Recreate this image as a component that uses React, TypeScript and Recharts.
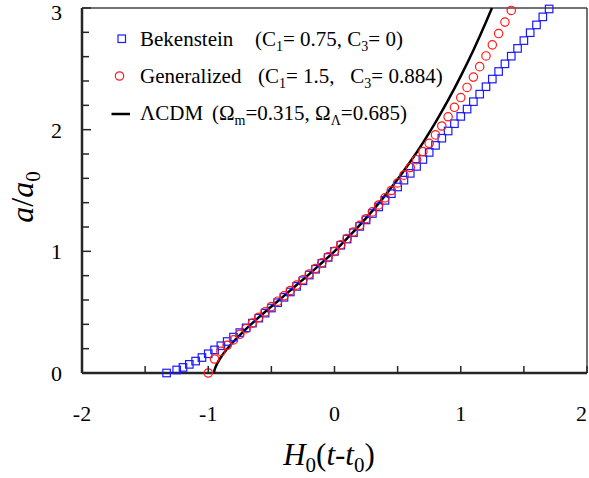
import React from "react";
import {
  ScatterChart,
  Scatter,
  XAxis,
  YAxis,
  ReferenceLine,
  Legend,
  Label,
} from "recharts";

// H0(t - t0) values and a/a0 for each model
const bekensteinT = [
  -1.33, -1.25, -1.2, -1.15, -1.1, -1.05, -1.0, -0.95, -0.9, -0.85, -0.8, -0.75,
  -0.7, -0.65, -0.6, -0.55, -0.5, -0.45, -0.4, -0.35, -0.3, -0.25, -0.2, -0.15,
  -0.1, -0.05, 0, 0.05, 0.1, 0.15, 0.2, 0.25, 0.3, 0.35, 0.4, 0.45, 0.5, 0.55,
  0.6, 0.65, 0.7, 0.75, 0.8, 0.85, 0.9, 0.95, 1.0, 1.05, 1.1, 1.15, 1.2, 1.25,
  1.3, 1.35, 1.4, 1.45, 1.5, 1.55, 1.6, 1.65, 1.7,
];
const bekensteinA = [
  0.0, 0.025, 0.046, 0.071, 0.098, 0.127, 0.158, 0.19, 0.224, 0.259, 0.295,
  0.332, 0.371, 0.41, 0.451, 0.492, 0.534, 0.578, 0.622, 0.666, 0.712, 0.758,
  0.805, 0.853, 0.901, 0.95, 1.0, 1.05, 1.101, 1.153, 1.205, 1.258, 1.311,
  1.365, 1.419, 1.474, 1.529, 1.585, 1.641, 1.698, 1.755, 1.813, 1.871, 1.93,
  1.989, 2.049, 2.109, 2.169, 2.23, 2.292, 2.353, 2.416, 2.478, 2.541, 2.604,
  2.668, 2.732, 2.797, 2.861, 2.927, 2.992,
];

const generalizedT = [
  -1.0, -0.95, -0.9, -0.85, -0.8, -0.75, -0.7, -0.65, -0.6, -0.55, -0.5, -0.45,
  -0.4, -0.35, -0.3, -0.25, -0.2, -0.15, -0.1, -0.05, 0, 0.05, 0.1, 0.15, 0.2,
  0.25, 0.3, 0.35, 0.4, 0.45, 0.5, 0.55, 0.6, 0.65, 0.7, 0.75, 0.8, 0.85, 0.9,
  0.95, 1.0, 1.05, 1.1, 1.15, 1.2, 1.25, 1.3, 1.35, 1.4,
];
const generalizedA = [
  0.0, 0.115, 0.178, 0.228, 0.272, 0.318, 0.364, 0.411, 0.457, 0.502, 0.546,
  0.59, 0.634, 0.678, 0.723, 0.767, 0.813, 0.859, 0.906, 0.955, 1.0, 1.054,
  1.106, 1.159, 1.213, 1.268, 1.324, 1.381, 1.44, 1.5, 1.562, 1.626, 1.689,
  1.753, 1.82, 1.888, 1.957, 2.03, 2.106, 2.184, 2.264, 2.347, 2.432, 2.518,
  2.606, 2.697, 2.79, 2.884, 2.98,
];

const lcdmT = [
  -0.955, -0.95, -0.94, -0.93, -0.91, -0.9, -0.85, -0.8, -0.75, -0.7, -0.6,
  -0.5, -0.4, -0.3, -0.2, -0.1, 0, 0.1, 0.2, 0.3, 0.4, 0.5, 0.6, 0.7, 0.8, 0.9,
  1.0, 1.1, 1.2, 1.247,
];
const lcdmA = [
  0, 0.026, 0.054, 0.076, 0.113, 0.129, 0.199, 0.258, 0.312, 0.363, 0.457,
  0.546, 0.634, 0.723, 0.813, 0.906, 1.0, 1.107, 1.216, 1.333, 1.458, 1.592,
  1.736, 1.892, 2.06, 2.242, 2.44, 2.653, 2.885, 3.0,
];

const xTicks = [-2, -1.5, -1, -0.5, 0, 0.5, 1, 1.5, 2];
const yTicks = [
  0, 0.2, 0.4, 0.6, 0.8, 1, 1.2, 1.4, 1.6, 1.8, 2, 2.2, 2.4, 2.6, 2.8, 3,
];

const zip = (ts: number[], as: number[]) =>
  ts.map((t, i) => ({ t, a: as[i] }));

const bekenstein = zip(bekensteinT, bekensteinA);
const generalized = zip(generalizedT, generalizedA);
const lcdm = zip(lcdmT, lcdmA);

const FONT = '"Liberation Serif", "Times New Roman", serif';
const AXIS = "#262626";
const BLUE = "#1a1aff";
const RED = "#ff1a1a";

const isMajor = (v: number) => Math.abs(v - Math.round(v)) < 1e-6;

function XTick({ x, y, payload }: any) {
  const v = payload.value;
  // last label sits at the page edge, keep it inside
  const last = v === 2;
  return (
    <g>
      <line x1={x} x2={x} y1={y} y2={y - 7} stroke={AXIS} strokeWidth={1.5} />
      {isMajor(v) && (
        <text
          x={last ? x : x}
          y={y + 48}
          textAnchor={last ? "end" : "middle"}
          fontFamily={FONT}
          fontSize={22}
          fill="#000"
        >
          {String(v)}
        </text>
      )}
    </g>
  );
}

function YTick({ x, y, payload }: any) {
  const v = payload.value;
  const major = isMajor(v);
  const top = v === 3;
  return (
    <g>
      <line x1={x} x2={x + (major ? 9 : 7)} y1={y} y2={y} stroke={AXIS} strokeWidth={1.5} />
      {major && (
        <text x={x - 20} y={y + (top ? 12 : 8)} textAnchor="end" fontFamily={FONT} fontSize={22} fill="#000">
          {String(Math.round(v))}
        </text>
      )}
    </g>
  );
}

function XTitle() {
  return (
    <text x={329} y={465} textAnchor="middle" fontFamily={FONT} fontSize={31} fill="#000">
      <tspan fontStyle="italic">H</tspan>
      <tspan fontSize={21} dy={7}>0</tspan>
      <tspan dy={-7}>(</tspan>
      <tspan fontStyle="italic">t</tspan>
      <tspan>-</tspan>
      <tspan fontStyle="italic">t</tspan>
      <tspan fontSize={21} dy={7}>0</tspan>
      <tspan dy={-7}>)</tspan>
    </text>
  );
}

function YTitle() {
  return (
    <text
      transform="translate(33,197) rotate(-90)"
      textAnchor="middle"
      fontFamily={FONT}
      fontSize={32}
      fill="#000"
    >
      <tspan fontStyle="italic">a</tspan>
      <tspan>/</tspan>
      <tspan fontStyle="italic">a</tspan>
      <tspan fontSize={21} dy={7}>0</tspan>
    </text>
  );
}

function LegendBox() {
  const txt = { fontFamily: FONT, fontSize: 21, fill: "#000", xmlSpace: "preserve" } as any;
  return (
    <svg width={589} height={130} style={{ display: "block" }}>
      <rect x={118} y={35} width={7.5} height={7.5} fill="none" stroke={BLUE} strokeWidth={1.2} />
      <text x={140} y={45.5} {...txt}>Bekenstein</text>
      <text x={255} y={45.5} {...txt}>
        (C<tspan fontSize={14} dy={5}>1</tspan>
        <tspan dy={-5}>= 0.75, C</tspan>
        <tspan fontSize={14} dy={5}>3</tspan>
        <tspan dy={-5}>= 0)</tspan>
      </text>

      <circle cx={119.5} cy={76} r={4.2} fill="none" stroke={RED} strokeWidth={1.2} />
      <text x={140} y={82.5} {...txt}>Generalized</text>
      <text x={258} y={82.5} {...txt}>
        (C<tspan fontSize={14} dy={5}>1</tspan>
        <tspan dy={-5}>{"= 1.5,   C"}</tspan>
        <tspan fontSize={14} dy={5}>3</tspan>
        <tspan dy={-5}>= 0.884)</tspan>
      </text>

      <line x1={111.5} x2={130} y1={114} y2={114} stroke="#000" strokeWidth={2.5} />
      <text x={140} y={119.5} {...txt}>ΛCDM</text>
      <text x={212} y={119.5} {...txt}>
        (Ω<tspan fontSize={14} dy={5}>m</tspan>
        <tspan dy={-5}>=0.315, Ω</tspan>
        <tspan fontSize={14} dy={5}>Λ</tspan>
        <tspan dy={-5}>=0.685)</tspan>
      </text>
    </svg>
  );
}

const Square = ({ cx, cy }: any) => (
  <rect x={cx - 3.75} y={cy - 3.75} width={7.5} height={7.5} fill="none" stroke={BLUE} strokeWidth={1.2} />
);
const Ring = ({ cx, cy }: any) => (
  <circle cx={cx} cy={cy} r={4.2} fill="none" stroke={RED} strokeWidth={1.2} />
);
const NoDot = () => <g />;

export default function App() {
  return (
    <div style={{ position: "absolute", left: 0, top: 0, width: 589, height: 478, background: "#fff" }}>
      <ScatterChart width={589} height={478} margin={{ top: 8, right: 2, bottom: 0, left: 0 }}>
        <XAxis
          type="number"
          dataKey="t"
          domain={[-2, 2]}
          ticks={xTicks}
          interval={0}
          height={105}
          tickSize={0}
          tickMargin={0}
          tickLine={false}
          tick={<XTick />}
          axisLine={{ stroke: AXIS, strokeWidth: 2.5 }}
        >
          <Label content={<XTitle />} />
        </XAxis>
        <YAxis
          type="number"
          dataKey="a"
          domain={[0, 3]}
          ticks={yTicks}
          interval={0}
          width={82}
          tickSize={0}
          tickMargin={0}
          tickLine={false}
          tick={<YTick />}
          axisLine={{ stroke: AXIS, strokeWidth: 2.5 }}
        >
          <Label content={<YTitle />} />
        </YAxis>
        <ReferenceLine y={3} stroke="#444" strokeWidth={1.5} />
        <ReferenceLine x={2} stroke="#444" strokeWidth={1.5} />
        <Scatter
          name="ΛCDM"
          data={lcdm}
          line={{ stroke: "#000", strokeWidth: 2.5 }}
          lineJointType="monotoneX"
          shape={<NoDot />}
          isAnimationActive={false}
        />
        <Scatter name="Bekenstein" data={bekenstein} shape={<Square />} isAnimationActive={false} />
        <Scatter name="Generalized" data={generalized} shape={<Ring />} isAnimationActive={false} />
        <Legend
          layout="vertical"
          verticalAlign="middle"
          align="center"
          wrapperStyle={{ left: 0, top: 0, width: 589, height: 130 }}
          content={<LegendBox />}
        />
      </ScatterChart>
    </div>
  );
}
